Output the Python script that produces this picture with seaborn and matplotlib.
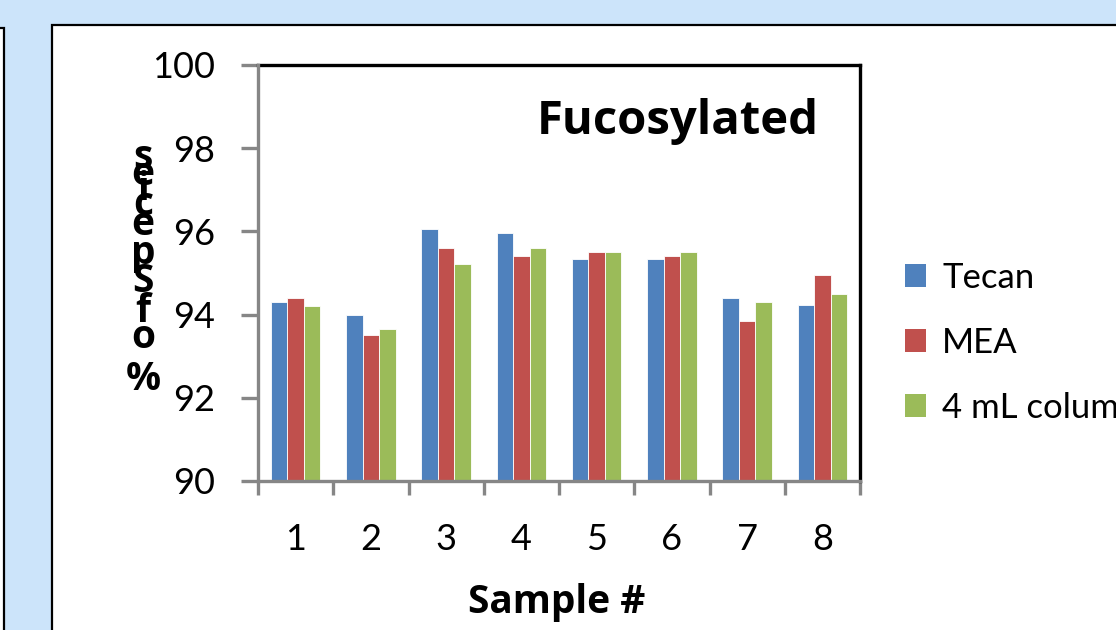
import matplotlib
matplotlib.use("Agg")
import matplotlib.pyplot as plt
import matplotlib.patches as mpatches
import seaborn as sns
import pandas as pd
import numpy as np

samples = ["1", "2", "3", "4", "5", "6", "7", "8"]
tecan = [94.3, 94.0, 96.05, 95.95, 95.33, 95.33, 94.4, 94.22]
mea = [94.4, 93.5, 95.6, 95.4, 95.5, 95.42, 93.84, 94.94]
col4 = [94.2, 93.65, 95.22, 95.6, 95.5, 95.5, 94.3, 94.5]
series_names = ["Tecan", "MEA", "4 mL column"]
colors = ["#4f81bd", "#c0504d", "#9bbb59"]
y_ticks = [90, 92, 94, 96, 98, 100]
title = "Fucosylated"
xlabel = "Sample #"
ylabel = "% of Species"

df = pd.DataFrame({
    "Sample": samples * 3,
    "Value": tecan + mea + col4,
    "Series": [series_names[0]] * 8 + [series_names[1]] * 8 + [series_names[2]] * 8,
})

sns.set_style("white")
plt.rcParams["font.family"] = ["Lato", "DejaVu Sans"]
plt.rcParams["text.color"] = "black"
plt.rcParams["xtick.labelcolor"] = "black"
plt.rcParams["ytick.labelcolor"] = "black"

W, H = 1116, 630
fig = plt.figure(figsize=(W / 100, H / 100), dpi=100)
fig.patch.set_facecolor("#cce4fa")

def fx(px):
    return px / W

def fy(py):
    return 1 - py / H

# panels
fig.patches.append(mpatches.Rectangle((fx(52), fy(700)), fx(1200), fy(25) - fy(700),
                                      transform=fig.transFigure, facecolor="white",
                                      edgecolor="black", linewidth=1.6, zorder=-10))
fig.patches.append(mpatches.Rectangle((fx(-20), fy(700)), fx(23.5), fy(28) - fy(700),
                                      transform=fig.transFigure, facecolor="white",
                                      edgecolor="black", linewidth=1.6, zorder=-10))

ax = fig.add_axes([fx(258), fy(481), fx(860) - fx(258), fy(65) - fy(481)])
ax.set_zorder(5)
ax.set_facecolor("white")
sns.barplot(data=df, x="Sample", y="Value", hue="Series", order=samples,
            hue_order=series_names, palette=colors, width=0.66, ax=ax,
            edgecolor="white", linewidth=0.6, saturation=1, legend=False)

ax.set_ylim(90, 100)
ax.set_xlim(-0.5, 7.5)
ax.set_yticks(y_ticks)
ax.set_yticklabels([str(t) for t in y_ticks], fontsize=26)
ax.set_xticks(range(8))
ax.set_xticklabels(samples, fontsize=26)
ax.set_xticks(np.arange(-0.5, 8.0, 1.0), minor=True)
ax.tick_params(axis="x", which="both", bottom=True)
ax.tick_params(axis="y", which="both", left=True)
ax.tick_params(axis="x", which="major", length=0, pad=30)
ax.tick_params(axis="x", which="minor", length=10, width=2.4, color="#868686", direction="out")
ax.tick_params(axis="y", which="major", length=12, width=2.4, color="#868686", direction="out", pad=19)
ax.set_xlabel("")
ax.set_ylabel("")

for s in ["left", "bottom"]:
    ax.spines[s].set_color("#868686")
    ax.spines[s].set_linewidth(2.4)
for s in ["top", "right"]:
    ax.spines[s].set_color("black")
    ax.spines[s].set_linewidth(2.4)
ax.spines["left"].set_zorder(5)
ax.spines["bottom"].set_zorder(5)

# title inside plot
ax.text(fx(819), fy(134), title, transform=fig.transFigure, fontsize=34, fontweight="bold",
        ha="right", va="baseline", family=["Open Sans", "DejaVu Sans"], zorder=10)

# x label
fig.text(fx(557), fy(613), xlabel, fontsize=28, fontweight="bold", ha="center", va="baseline",
         family=["Open Sans", "DejaVu Sans"])

# stacked y label (characters stacked, reversed order top to bottom)
chars = [c for c in ylabel if c != " "]
baselines = [390, 348, 322, 292, 264, 235, 215, 200, 185, 168]
for ch, b in zip(chars, baselines):
    fig.text(fx(143), fy(b), ch, fontsize=28, fontweight="bold", ha="center", va="baseline",
             family=["Open Sans", "DejaVu Sans"])

# legend
handles = [mpatches.Patch(facecolor=c, edgecolor="none") for c in colors]
fig.legend(handles, series_names, loc="upper left", bbox_to_anchor=(fx(898), fy(255)),
           frameon=False, fontsize=25, handlelength=0.62, handleheight=0.62,
           handletextpad=0.45, labelspacing=0.95, borderaxespad=0, borderpad=0.2)

fig.savefig("out.png", dpi=100, facecolor=fig.get_facecolor())
